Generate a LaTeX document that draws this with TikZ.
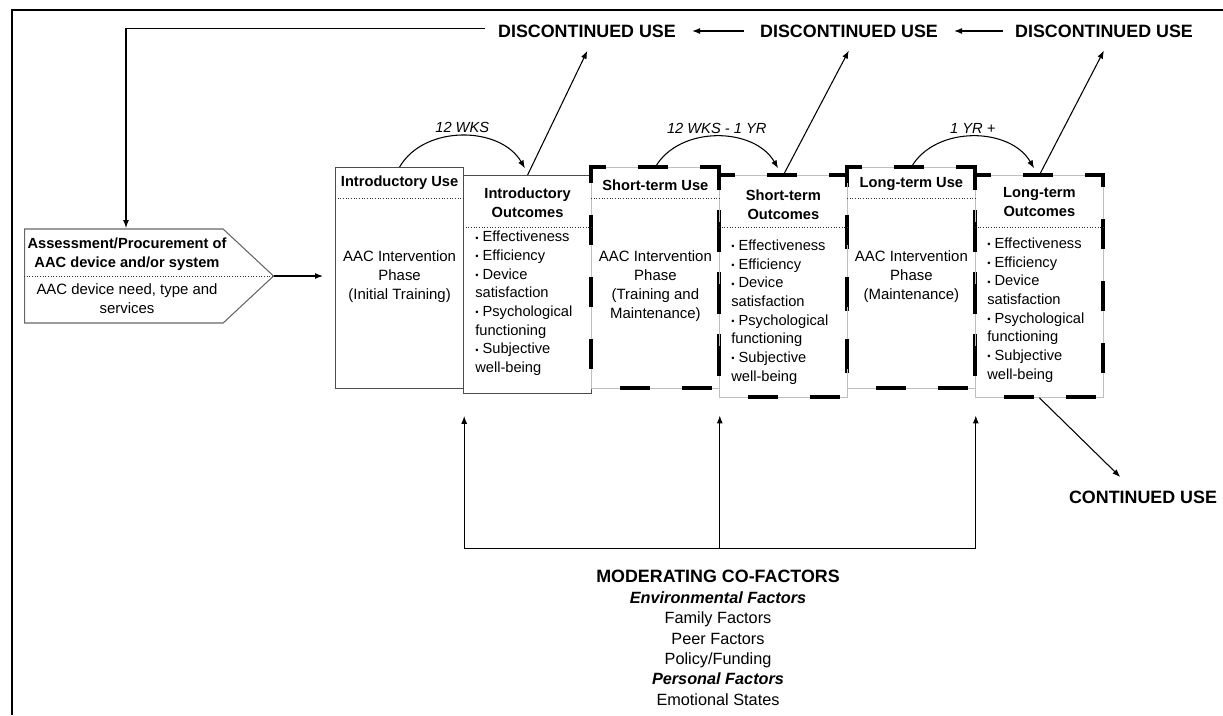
\documentclass[tikz,border=0pt]{standalone}
\usepackage{fontspec}
\setmainfont{Liberation Sans}
\usetikzlibrary{shapes.symbols,arrows.meta,calc}

\newcommand{\bul}{\raisebox{0.6pt}{\fontsize{7}{7}\selectfont\textbullet}\ }

\tikzset{
    usebox/.style={draw=black!70, line width=0.9pt, minimum width=96pt,
        minimum height=165.75pt, anchor=north west, inner sep=0pt},
    outbox/.style={usebox, minimum height=166.5pt},
    dashbox/.style={draw=black!25, line width=0.6pt,
        postaction={draw=black, line width=3pt,
            dash pattern=on 22.5pt off 24pt, dash phase=25.25pt}},
    boxhead/.style={font=\fontsize{11}{14}\selectfont\bfseries, align=center, inner sep=0pt},
    boxbody/.style={font=\fontsize{11.2}{14.2}\selectfont, align=center, inner sep=0pt},
    bulletlist/.style={font=\fontsize{11}{14}\selectfont, align=left, anchor=west, inner sep=0pt},
    divider/.style={draw=black!80, line width=0.6pt, dash pattern=on 0.8pt off 1.2pt},
    uselabel/.style={font=\fontsize{13.4}{16}\selectfont\bfseries, inner sep=0pt},
    timelabel/.style={font=\fontsize{11}{13}\selectfont\itshape, inner sep=0pt},
    flow/.style={-{Latex[length=6pt,width=4.5pt]}, line width=0.8pt},
}

\begin{document}
\begin{tikzpicture}[x=0.75pt, y=-0.75pt]
    \useasboundingbox (0,0) rectangle (1223,715);

    % frame
    \draw[line width=1.1pt] (12,715) -- (12,10) -- (1223,10);

    % assessment
    \node[draw=black!60, line width=0.8pt, signal, signal to=east,
        signal pointer angle=86, minimum width=186.75pt, minimum height=70.5pt,
        anchor=west, inner sep=0pt] (assess) at (24,276) {};
    \draw[divider] (assess.west) -- (assess.east);
    \node[boxhead] (assessHead) at (127,254.5) {Assessment/Procurement of\\AAC device and/or system};
    \node[boxbody] (assessBody) at (127,299) {AAC device need, type and\\services};
    \coordinate (assessTop) at (126,228);

    % phase boxes
    \node[usebox] (introUse) at (335,167) {};
    \node[usebox, minimum height=163.5pt] (introOut) at (463,175) {};
    \node[usebox, dashbox] (shortUse) at (591,167) {};
    \node[outbox, dashbox] (shortOut) at (719,175) {};
    \node[usebox, dashbox] (longUse) at (847,167) {};
    \node[outbox, dashbox] (longOut) at (975,175) {};

    % dividers
    \foreach \b in {introUse, shortUse, longUse}
        \draw[divider] ($(\b.north west)+(0,31)$) -- ($(\b.north east)+(0,31)$);
    \foreach \b in {introOut, shortOut, longOut}
        \draw[divider] ($(\b.north west)+(0,52)$) -- ($(\b.north east)+(0,52)$);

    % introductory
    \node[boxhead] (introUseHead) at ($(introUse.north)+(0,16)$) {Introductory Use};
    \node[boxbody] (introUseBody) at ($(introUse.north)+(0,110)$) {AAC Intervention\\Phase\\(Initial Training)};
    \node[boxhead] (introOutHead) at ($(introOut.north)+(0,27.5)$) {Introductory\\Outcomes};
    \node[bulletlist] (introOutList) at ($(introOut.north west)+(12,128.5)$)
        {\bul Effectiveness\\\bul Efficiency\\\bul Device\\satisfaction\\\bul Psychological\\functioning\\\bul Subjective\\well-being};

    % short-term
    \node[boxhead] (shortUseHead) at ($(shortUse.north)+(0,18)$) {Short-term Use};
    \node[boxbody] (shortUseBody) at ($(shortUse.north)+(0,119)$) {AAC Intervention\\Phase\\(Training and\\Maintenance)};
    \node[boxhead] (shortOutHead) at ($(shortOut.north)+(0,30)$) {Short-term\\Outcomes};
    \node[bulletlist] (shortOutList) at ($(shortOut.north west)+(12,137)$)
        {\bul Effectiveness\\\bul Efficiency\\\bul Device\\satisfaction\\\bul Psychological\\functioning\\\bul Subjective\\well-being};

    % long-term
    \node[boxhead] (longUseHead) at ($(longUse.north)+(0,17)$) {Long-term Use};
    \node[boxbody] (longUseBody) at ($(longUse.north)+(0,110)$) {AAC Intervention\\Phase\\(Maintenance)};
    \node[boxhead] (longOutHead) at ($(longOut.north)+(0,27)$) {Long-term\\Outcomes};
    \node[bulletlist] (longOutList) at ($(longOut.north west)+(12,135)$)
        {\bul Effectiveness\\\bul Efficiency\\\bul Device\\satisfaction\\\bul Psychological\\functioning\\\bul Subjective\\well-being};

    % discontinued use
    \node[uselabel] (disc1) at (587,31) {DISCONTINUED USE};
    \node[uselabel] (disc2) at (849,31) {DISCONTINUED USE};
    \node[uselabel] (disc3) at (1104,31) {DISCONTINUED USE};
    \draw[flow, shorten <=9pt, shorten >=12pt] (disc3.west) -- (disc2.east);
    \draw[flow, shorten <=12pt, shorten >=12pt] (disc2.west) -- (disc1.east);
    \draw[flow] ([xshift=-10pt, yshift=2pt]disc1.west) -| (assessTop);
    \draw[flow] (assess.east) -- ([xshift=-9pt]assess.east -| introUse.west);

    % time spans
    \draw[flow] (introUse.north) to[out=60, in=120]
        node[timelabel, above=2pt] (wks12) {12 WKS} ([xshift=-2pt, yshift=5pt]introOut.north);
    \draw[flow] (shortUse.north) to[out=60, in=120]
        node[timelabel, above=2pt] (wksYr) {12 WKS - 1 YR} ([xshift=-4pt, yshift=5pt]shortOut.north);
    \draw[flow] (longUse.north) to[out=60, in=120]
        node[timelabel, above=2pt] (yrPlus) {1 YR +} ([xshift=-4pt, yshift=5pt]longOut.north);

    % outcomes to discontinued use
    \draw[flow, shorten >=11pt] (introOut.north) -- ([xshift=5pt]disc1.south);
    \draw[flow, shorten >=11pt] (shortOut.north) -- ([xshift=5pt]disc2.south);
    \draw[flow, shorten >=11pt] (longOut.north) -- ([xshift=5pt]disc3.south);

    % continued use
    \node[uselabel] (contUse) at (1143,497) {CONTINUED USE};
    \draw[flow] (longOut.south) -- ([xshift=-17pt, yshift=10pt]contUse.north);

    % moderating co-factors
    \path (introUse.south east) ++(0,159) coordinate (modL);
    \draw[line width=0.8pt] (modL) -- (longUse.south east |- modL);
    \draw[flow, shorten >=20pt] (modL) -- (introUse.south east);
    \draw[flow, shorten >=20pt] (shortUse.south east |- modL) -- (shortUse.south east);
    \draw[flow, shorten >=20pt] (longUse.south east |- modL) -- (longUse.south east);
    \node[align=center, font=\fontsize{12.2}{15.3}\selectfont, inner sep=0pt] (modText) at (718,638)
        {{\fontsize{13.4}{15.3}\selectfont\bfseries MODERATING CO-FACTORS}\\
         \textbf{\textit{Environmental Factors}}\\
         Family Factors\\
         Peer Factors\\
         Policy/Funding\\
         \textbf{\textit{Personal Factors}}\\
         Emotional States};
\end{tikzpicture}
\end{document}
